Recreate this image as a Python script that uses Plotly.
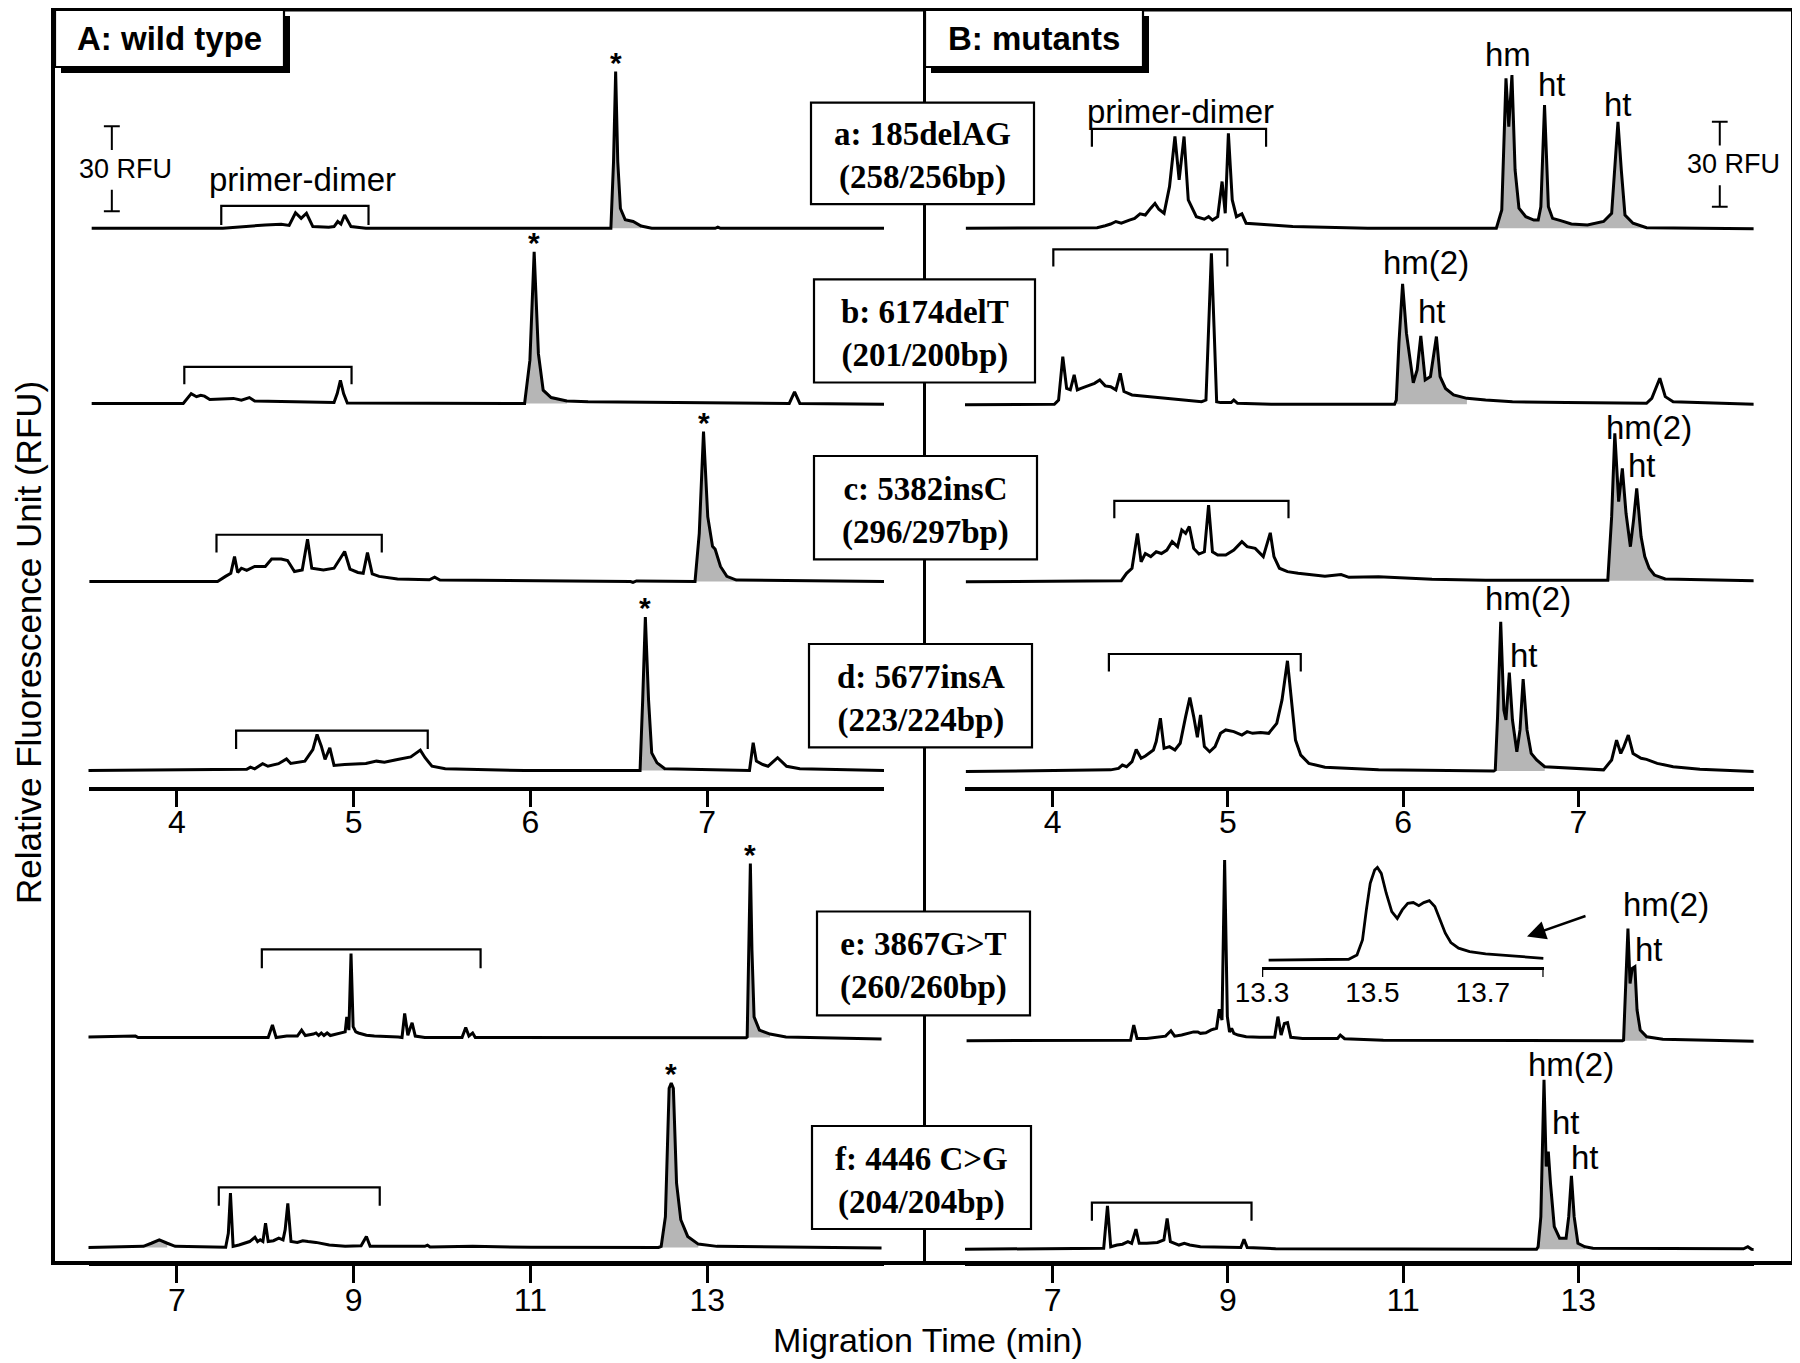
import plotly.graph_objects as go

W, H = 1800, 1363
K = 85 / 30.0          # pixels per RFU (30 RFU scale bar ~ 85 px)
OFF = 8                # page offset of the plot div
SANS = "Liberation Sans, Arial, Helvetica, sans-serif"
SERIF = "Liberation Serif, Times New Roman, serif"
FILL = "rgb(182,182,182)"

# ---------------- data (migration time in min, signal in RFU) ----------------
TICKS_UPPER = [4, 5, 6, 7]
TICKS_LOWER = [7, 9, 11, 13]
TICKS_INSET = [13.3, 13.5, 13.7]
RANGE_UPPER = [3.5, 8.0]
RANGE_LOWER = [6.0, 15.0]
RANGE_INSET = [13.3, 13.81]
SCALE_RFU = 30

WT_A = [(3.518, 0), (4.260, 0), (4.500, 1.2), (4.590, 1.4), (4.635, 1.0), (4.671, 5.5), (4.703, 3.5),
        (4.733, 5.3), (4.769, 0.6), (4.859, 0.4), (4.889, 0.6), (4.910, 2.4), (4.928, 1.5), (4.949, 4.7),
        (4.985, 0.6), (5.069, 0), (6.455, 0), (6.470, 23.5), (6.482, 55.3), (6.494, 23.5), (6.509, 7.0),
        (6.536, 3.0), (6.581, 2.4), (6.626, 0.8), (6.686, 0), (7.045, 0), (7.060, 0.4), (7.075, 0), (8.010, 0)]

WT_B = [(3.518, 0), (4.036, 0), (4.081, 3.5), (4.111, 2.4), (4.135, 2.9), (4.156, 2.6), (4.186, 1.4),
        (4.320, 1.8), (4.365, 1.2), (4.410, 2.1), (4.440, 0.9), (4.709, 0.6), (4.889, 0.35), (4.907, 3.5),
        (4.925, 8.2), (4.943, 3.5), (4.964, 0.2), (5.967, 0), (5.997, 15.3), (6.021, 53.5), (6.045, 17.6),
        (6.072, 4.7), (6.117, 2.1), (6.206, 0.9), (6.326, 0.6), (7.464, 0), (7.494, 4.1), (7.524, 0),
        (8.010, -0.3)]

WT_C = [(3.505, 0), (4.230, 0), (4.275, 1.8), (4.305, 2.9), (4.326, 8.8), (4.344, 3.2), (4.365, 4.7),
        (4.395, 3.9), (4.440, 5.3), (4.500, 5.3), (4.536, 7.9), (4.590, 7.9), (4.626, 7.4), (4.665, 3.5),
        (4.709, 4.1), (4.739, 14.9), (4.763, 4.7), (4.829, 4.1), (4.889, 4.7), (4.949, 10.6), (4.979, 4.4),
        (5.024, 3.2), (5.054, 2.9), (5.078, 10.2), (5.105, 2.7), (5.144, 1.8), (5.248, 0.9), (5.428, 0.6),
        (5.458, 1.5), (5.488, 0.5), (6.566, 0), (6.580, -0.3), (6.600, 0.2), (6.931, 0), (6.955, 17.0),
        (6.979, 52.9), (7.003, 22.9), (7.030, 12.4), (7.045, 11.4), (7.075, 5.3), (7.111, 1.8), (7.165, 0.5),
        (8.003, 0)]

WT_D = [(3.497, 0), (4.395, 0.4), (4.416, 1.2), (4.440, 0.6), (4.485, 2.4), (4.515, 1.5), (4.575, 2.4),
        (4.620, 4.1), (4.644, 2.5), (4.680, 2.9), (4.724, 3.3), (4.769, 7.4), (4.793, 12.7), (4.817, 8.6),
        (4.838, 3.9), (4.865, 8.0), (4.889, 1.8), (4.949, 2.1), (5.069, 2.5), (5.129, 3.3), (5.174, 2.9),
        (5.248, 3.9), (5.323, 4.8), (5.377, 7.2), (5.404, 4.5), (5.443, 1.5), (5.518, 0.6), (5.967, 0),
        (6.620, 0), (6.635, 25.0), (6.650, 54.2), (6.668, 25.0), (6.686, 6.2), (6.716, 2.7), (6.760, 0.6),
        (7.239, 0), (7.260, 9.8), (7.278, 3.3), (7.314, 2.1), (7.344, 1.5), (7.398, 4.5), (7.449, 1.5),
        (7.524, 0.6), (8.003, 0)]

WT_E = [(5.960, 0.2), (6.531, 0.5), (6.561, 0), (8.033, 0), (8.081, 4.4), (8.123, 0), (8.243, 0.5),
        (8.363, 0.5), (8.411, 2.6), (8.453, 0.7), (8.544, 1.2), (8.574, 1.6), (8.604, 0.7), (8.634, 1.6),
        (8.664, 0.7), (8.700, 1.6), (8.736, 0.7), (8.844, 1.4), (8.904, 2.0), (8.922, 7.3), (8.946, 2.6),
        (8.970, 29.6), (8.994, 3.8), (9.024, 2.0), (9.054, 1.6), (9.144, 0.8), (9.234, 0.5), (9.505, 0.2),
        (9.547, 0), (9.577, 8.5), (9.613, 0.8), (9.637, 3.1), (9.661, 5.2), (9.697, 0.5), (9.805, 0),
        (10.226, 0), (10.268, 3.5), (10.304, 0.5), (10.346, 1.6), (10.376, 0), (11.908, -0.1), (13.440, -0.1),
        (13.452, 0.2), (13.470, 30.8), (13.488, 61.4), (13.506, 30.8), (13.530, 7.3), (13.590, 2.6),
        (13.710, 1.2), (13.891, 0.2), (14.972, -0.5)]

WT_F = [(5.990, 0), (6.621, 0.4), (6.711, 1.5), (6.801, 2.7), (6.891, 1.5), (6.981, 0.4), (7.552, 0.1),
        (7.582, 5.0), (7.606, 19.2), (7.636, 0.4), (7.702, 0.9), (7.762, 1.5), (7.823, 2.1), (7.883, 3.6),
        (7.913, 2.1), (7.943, 2.7), (7.973, 2.1), (8.003, 8.6), (8.033, 2.1), (8.093, 2.4), (8.153, 3.3),
        (8.201, 2.7), (8.225, 6.3), (8.255, 15.6), (8.291, 2.1), (8.363, 1.8), (8.424, 2.4), (8.484, 2.1),
        (8.574, 1.8), (8.724, 0.9), (8.904, 0.4), (9.084, 0.6), (9.144, 3.9), (9.186, 0.4), (9.805, 0.4),
        (9.835, 0.8), (9.865, 0.2), (10.346, 0.4), (11.007, 0.1), (12.449, 0), (12.479, 0.4), (12.527, 10.9),
        (12.569, 56.2), (12.593, 58.0), (12.617, 56.2), (12.653, 22.7), (12.701, 9.8), (12.779, 3.9),
        (12.899, 1.2), (13.110, 0.4), (14.972, -0.2)]

MT_A = [(3.505, 0), (4.254, 0.2), (4.300, 0.9), (4.331, 1.5), (4.361, 2.4), (4.392, 1.8), (4.438, 2.9),
        (4.468, 3.5), (4.499, 5.1), (4.529, 4.7), (4.560, 7.1), (4.584, 8.8), (4.606, 6.7), (4.636, 5.3),
        (4.667, 14.7), (4.698, 32.4), (4.722, 17.1), (4.750, 32.4), (4.774, 10.0), (4.820, 4.1), (4.866, 3.2),
        (4.890, 4.1), (4.912, 2.9), (4.942, 4.1), (4.967, 16.5), (4.985, 5.3), (5.003, 33.5), (5.025, 10.0),
        (5.049, 4.1), (5.080, 5.1), (5.104, 1.8), (5.156, 1.5), (5.248, 1.2), (5.370, 0.6), (5.798, 0),
        (6.532, 0), (6.563, 6.5), (6.587, 52.9), (6.603, 35.9), (6.621, 54.1), (6.639, 20.6), (6.661, 7.1),
        (6.700, 4.1), (6.746, 2.9), (6.771, 2.9), (6.786, 7.6), (6.807, 43.5), (6.829, 7.6), (6.853, 3.5),
        (6.899, 2.7), (6.960, 1.5), (7.052, 1.2), (7.144, 2.4), (7.190, 5.3), (7.208, 20.6), (7.226, 37.6),
        (7.245, 20.6), (7.266, 4.7), (7.312, 1.8), (7.389, 0.2), (8.008, -0.2)]

MT_B = [(3.490, -0.2), (4.010, 0), (4.034, 1.5), (4.058, 16.8), (4.080, 5.6), (4.101, 5.1), (4.123, 10.4),
        (4.141, 5.1), (4.162, 5.6), (4.208, 6.8), (4.239, 7.4), (4.269, 8.6), (4.300, 6.5), (4.331, 6.2),
        (4.361, 5.1), (4.386, 10.9), (4.407, 4.5), (4.453, 3.3), (4.636, 2.1), (4.850, 0.9), (4.875, 1.5),
        (4.890, 27.4), (4.906, 53.3), (4.921, 27.4), (4.936, 0.9), (4.958, 0.6), (5.019, 0.6), (5.034, 1.5),
        (5.055, 0.35), (5.248, 0), (5.951, 0), (5.961, 1.5), (5.976, 21.5), (5.997, 42.5), (6.019, 25.1),
        (6.058, 7.6), (6.080, 12.1), (6.101, 24.1), (6.126, 8.6), (6.156, 9.8), (6.190, 23.9), (6.211, 9.8),
        (6.242, 5.6), (6.288, 3.3), (6.364, 2.1), (6.471, 1.5), (6.624, 0.9), (6.930, 0.6), (7.389, 0.35),
        (7.419, 2.1), (7.465, 9.2), (7.496, 2.7), (7.541, 0.9), (8.031, 0)]

MT_C = [(3.505, -0.4), (4.392, 0), (4.422, 2.6), (4.453, 4.4), (4.484, 16.7), (4.505, 6.7), (4.529, 9.6),
        (4.560, 8.5), (4.591, 10.2), (4.621, 9.6), (4.652, 10.8), (4.682, 13.8), (4.713, 12.0), (4.737, 17.9),
        (4.759, 16.7), (4.780, 19.1), (4.805, 11.4), (4.835, 9.4), (4.866, 10.2), (4.890, 26.7), (4.912, 10.2),
        (4.942, 9.1), (4.988, 9.1), (5.034, 10.8), (5.080, 13.8), (5.110, 12.0), (5.156, 11.4), (5.202, 8.5),
        (5.242, 16.9), (5.263, 8.5), (5.294, 4.4), (5.340, 3.2), (5.401, 2.6), (5.554, 1.6), (5.646, 2.2),
        (5.691, 1.2), (5.860, 1.4), (6.165, 0.5), (6.471, 0.2), (7.159, 0), (7.168, 0.2), (7.190, 22.6),
        (7.208, 52.0), (7.230, 27.9), (7.251, 39.6), (7.272, 23.8), (7.297, 12.0), (7.315, 21.4), (7.333, 32.6),
        (7.358, 15.5), (7.379, 8.5), (7.404, 4.4), (7.434, 2.0), (7.496, 0.6), (8.015, 0)]

MT_D = [(3.505, -0.2), (4.331, 0.4), (4.376, 0.9), (4.398, 2.1), (4.422, 1.5), (4.453, 3.3), (4.477, 7.6),
        (4.505, 4.5), (4.529, 5.3), (4.575, 7.4), (4.591, 10.4), (4.615, 18.6), (4.636, 8.0), (4.667, 8.6),
        (4.698, 7.4), (4.728, 9.8), (4.759, 19.2), (4.783, 25.9), (4.805, 19.2), (4.826, 11.9), (4.844, 19.8),
        (4.866, 8.6), (4.896, 6.8), (4.927, 8.6), (4.958, 13.3), (4.988, 14.5), (5.034, 13.9), (5.080, 12.7),
        (5.110, 13.9), (5.141, 13.3), (5.187, 13.6), (5.233, 13.3), (5.279, 16.8), (5.309, 25.1), (5.340, 38.9),
        (5.364, 25.1), (5.386, 10.9), (5.416, 5.6), (5.462, 2.7), (5.554, 1.3), (5.860, 0.4), (6.517, 0),
        (6.526, 0.4), (6.539, 19.2), (6.557, 52.7), (6.575, 21.5), (6.587, 18.0), (6.606, 34.7), (6.624, 18.0),
        (6.649, 6.8), (6.667, 14.5), (6.685, 32.4), (6.707, 14.5), (6.731, 6.2), (6.762, 3.9), (6.808, 1.5),
        (7.144, 0.4), (7.190, 3.9), (7.218, 10.9), (7.242, 6.2), (7.260, 8.6), (7.285, 12.7), (7.312, 6.2),
        (7.358, 4.5), (7.389, 4.1), (7.450, 2.7), (7.541, 1.5), (7.694, 0.6), (8.015, -0.2)]

MT_E = [(6.018, 0), (7.890, 0.2), (7.926, 5.5), (7.963, 0.8), (8.074, 0.8), (8.166, 1.2), (8.227, 1.4),
        (8.289, 1.6), (8.350, 3.5), (8.393, 1.6), (8.473, 2.0), (8.565, 2.6), (8.608, 3.1), (8.657, 3.1),
        (8.687, 2.6), (8.749, 2.8), (8.810, 3.8), (8.871, 4.4), (8.902, 11.1), (8.933, 7.3), (8.963, 63.8),
        (8.994, 8.5), (9.019, 3.1), (9.043, 4.4), (9.068, 2.6), (9.117, 2.0), (9.209, 1.4), (9.362, 1.2),
        (9.534, 1.2), (9.571, 8.5), (9.608, 2.0), (9.645, 6.1), (9.681, 6.4), (9.718, 1.2), (9.853, 0.8),
        (10.252, 0.8), (10.283, 2.0), (10.332, 0.7), (10.774, 0.2), (13.504, 0), (13.516, 0.2), (13.541, 20.2),
        (13.566, 39.6), (13.590, 20.2), (13.615, 25.5), (13.645, 26.1), (13.670, 10.8), (13.706, 3.8),
        (13.780, 1.4), (13.964, 0.5), (15.038, -0.2)]

MT_F = [(5.987, 0), (7.583, 0.4), (7.626, 15.3), (7.663, 0.9), (7.736, 1.5), (7.798, 1.8), (7.859, 2.7),
        (7.902, 2.1), (7.951, 7.1), (7.988, 2.1), (8.074, 2.1), (8.196, 2.4), (8.270, 3.3), (8.307, 10.9),
        (8.344, 2.7), (8.442, 1.5), (8.503, 2.1), (8.565, 1.5), (8.687, 0.9), (8.933, 0.6), (9.148, 0.6),
        (9.184, 3.5), (9.221, 0.6), (9.546, 0.2), (12.523, 0), (12.541, 0.9), (12.572, 11.5), (12.608, 59.8),
        (12.633, 29.2), (12.657, 34.5), (12.682, 23.3), (12.725, 8.0), (12.786, 3.9), (12.860, 3.9),
        (12.890, 11.5), (12.921, 25.9), (12.952, 11.5), (12.995, 2.1), (13.075, 0.9), (13.167, 0.4),
        (14.885, 0.2), (14.934, 0.9), (14.977, 0), (15.038, -0.2)]

INSET_E = [(13.312, 2.9), (13.457, 3.2), (13.472, 4.7), (13.482, 10.0), (13.489, 20.6), (13.496, 30.0),
           (13.504, 34.7), (13.509, 35.6), (13.516, 33.5), (13.525, 26.5), (13.535, 20.0), (13.545, 17.6),
           (13.554, 20.6), (13.564, 22.9), (13.574, 23.2), (13.584, 22.1), (13.593, 23.2), (13.603, 23.9),
           (13.613, 21.8), (13.622, 17.1), (13.632, 12.4), (13.642, 9.1), (13.656, 7.1), (13.676, 5.9),
           (13.705, 5.1), (13.753, 4.4), (13.810, 3.5)]

# primer-dimer brackets: (start, end, top RFU, leg-end RFU)
BRACKETS = {
    "wa": (4.251, 5.084, 7.9, 1.2), "wb": (4.042, 4.988, 12.9, 6.8), "wc": (4.224, 5.159, 16.5, 10.2),
    "wd": (4.335, 5.419, 14.1, 7.6), "we": (7.961, 10.436, 31.1, 24.4), "wf": (7.474, 9.295, 21.2, 14.7),
    "ma": (4.224, 5.218, 35.1, 28.8), "mb": (4.004, 4.997, 54.7, 48.6), "mc": (4.352, 5.346, 28.2, 22.0),
    "md": (4.321, 5.416, 41.3, 35.1), "mf": (7.448, 9.270, 16.5, 10.1),
}

# peak labels: (text, time, RFU)
LABELS = {
    "wa": [("primer-dimer", 4.71, 17.3)],
    "ma": [("primer-dimer", 4.73, 41.3), ("hm", 6.60, 61.5), ("ht", 6.847, 50.6), ("ht", 7.224, 43.6)],
    "mb": [("hm(2)", 6.132, 50.0), ("ht", 6.163, 32.7)],
    "mc": [("hm(2)", 7.405, 54.0), ("ht", 7.362, 40.8)],
    "md": [("hm(2)", 6.712, 61.0), ("ht", 6.691, 40.9)],
    "me": [("hm(2)", 13.997, 48.0), ("ht", 13.811, 32.3)],
    "mf": [("hm(2)", 12.914, 65.3), ("ht", 12.860, 44.6), ("ht", 13.076, 32.3)],
}

# shaded (filled) windows: (from, to) in min
FILLS = {
    "wa": [(6.45, 6.63)], "wb": [(5.96, 6.21)], "wc": [(6.93, 7.17)], "wd": [(6.62, 6.76)],
    "we": [(13.45, 13.89)], "wf": [(6.62, 6.98), (12.47, 12.90)],
    "ma": [(6.53, 7.39)], "mb": [(5.96, 6.47)], "mc": [(7.165, 7.50)], "md": [(6.52, 6.81)],
    "me": [(13.51, 13.78)], "mf": [(12.54, 13.08)],
}

GENE_NAMES = ["a: 185delAG", "b: 6174delT", "c: 5382insC", "d: 5677insA", "e: 3867G>T", "f: 4446 C>G"]
AMPLICONS = ["(258/256bp)", "(201/200bp)", "(296/297bp)", "(223/224bp)", "(260/260bp)", "(204/204bp)"]


# ---------------- layout geometry (pixels of the 1800x1363 picture) ----------------
def PX(x):
    return (x - OFF) / W


def PY(y):
    return 1 - (y - OFF) / H


LEFT_DOM = (88.5, 884.0)
RIGHT_DOM = (965.0, 1753.6)
UPPER_AXIS_Y = 788.5
LOWER_AXIS_Y = 1263.0
FRAME_TOP = 9.5

TRACES = [
    # key, data, x axis, baseline pixel y, asterisk?
    ("wa", WT_A, "x", 228.3, True), ("wb", WT_B, "x", 403.5, True), ("wc", WT_C, "x", 581.5, True),
    ("wd", WT_D, "x", 770.5, True), ("we", WT_E, "x3", 1037.5, True), ("wf", WT_F, "x3", 1247.5, True),
    ("ma", MT_A, "x2", 228.3, False), ("mb", MT_B, "x2", 404.3, False), ("mc", MT_C, "x2", 580.7, False),
    ("md", MT_D, "x2", 771.0, False), ("me", MT_E, "x4", 1040.7, False), ("mf", MT_F, "x4", 1249.3, False),
]

fig = go.Figure()
layout = {}


def xaxis_cfg(dom, rng, ypix, tickvals, lw, tlen, standoff):
    return dict(domain=[PX(dom[0]), PX(dom[1])], range=rng, anchor="free", position=PY(ypix),
                showline=True, linecolor="black", linewidth=lw, ticks="outside", ticklen=tlen,
                tickwidth=2.5, tickcolor="black", tickvals=tickvals, ticklabelstandoff=standoff,
                tickfont=dict(family=SANS, size=32, color="black"), automargin=False,
                showgrid=False, zeroline=False, fixedrange=True)


layout["xaxis"] = xaxis_cfg(LEFT_DOM, RANGE_UPPER, UPPER_AXIS_Y, TICKS_UPPER, 4, 16, -12)
layout["xaxis2"] = xaxis_cfg(RIGHT_DOM, RANGE_UPPER, UPPER_AXIS_Y, TICKS_UPPER, 4, 16, -12)
layout["xaxis3"] = xaxis_cfg(LEFT_DOM, RANGE_LOWER, LOWER_AXIS_Y, TICKS_LOWER, 5, 17, -10)
layout["xaxis4"] = xaxis_cfg(RIGHT_DOM, RANGE_LOWER, LOWER_AXIS_Y, TICKS_LOWER, 5, 17, -10)
layout["xaxis5"] = dict(domain=[PX(1262), PX(1543.6)], range=RANGE_INSET, anchor="free", position=PY(968.3),
                        showline=True, linecolor="black", linewidth=2.5, ticks="", tickvals=TICKS_INSET,
                        ticktext=[f"{v:.1f}" for v in TICKS_INSET], ticklabelstandoff=-2, automargin=False,
                        tickfont=dict(family=SANS, size=28, color="black"),
                        showgrid=False, zeroline=False, fixedrange=True)

LO, HI = -5, 70
annotations = []
for i, (key, data, xa, base, star) in enumerate(TRACES, start=1):
    yname = "y" if i == 1 else f"y{i}"
    ykey = "yaxis" if i == 1 else f"yaxis{i}"
    layout[ykey] = dict(domain=[PY(base - LO * K), PY(base - HI * K)], range=[LO, HI], visible=False,
                        anchor="free", position=0, automargin=False, fixedrange=True)
    ts = [p[0] for p in data]
    vs = [p[1] for p in data]
    for (a, b) in FILLS.get(key, []):
        sel = [(t, v) for t, v in data if a <= t <= b]
        fig.add_trace(go.Scatter(x=[p[0] for p in sel], y=[p[1] for p in sel], mode="lines",
                                 fill="tozeroy", fillcolor=FILL, line=dict(width=0, color=FILL),
                                 xaxis=xa, yaxis=yname, hoverinfo="skip"))
    fig.add_trace(go.Scatter(x=ts, y=vs, mode="lines", line=dict(color="black", width=3.0),
                             xaxis=xa, yaxis=yname))
    if key in BRACKETS:
        x0, x1, top, leg = BRACKETS[key]
        fig.add_trace(go.Scatter(x=[x0, x0, x1, x1], y=[leg, top, top, leg], mode="lines",
                                 line=dict(color="black", width=2.2), xaxis=xa, yaxis=yname))
    for (txt, tx, ty) in LABELS.get(key, []):
        annotations.append(dict(text=txt, x=tx, y=ty, xref=xa, yref=yname, showarrow=False,
                                font=dict(family=SANS, size=33, color="black"),
                                xanchor="center", yanchor="middle"))
    if star:
        pk = max(data, key=lambda p: p[1])
        annotations.append(dict(text="<b>*</b>", x=pk[0], y=pk[1], xref=xa, yref=yname, showarrow=False,
                                font=dict(family=SANS, size=30, color="black"),
                                xanchor="center", yanchor="bottom", yshift=-9))

# inset
layout["yaxis13"] = dict(domain=[PY(968.3), PY(968.3 - 42 * K)], range=[0, 42], visible=False,
                         anchor="free", position=0, fixedrange=True)
fig.add_trace(go.Scatter(x=[p[0] for p in INSET_E], y=[p[1] for p in INSET_E], mode="lines",
                         line=dict(color="black", width=2.8), xaxis="x5", yaxis="y13"))

# 30 RFU scale bars (data coordinates of trace a in each panel)
for xa, yname, xs, y0 in (("x", "y", 3.632, 6.0), ("x2", "y7", 7.807, 7.6)):
    y1 = y0 + SCALE_RFU
    dx = 0.045
    fig.add_trace(go.Scatter(x=[xs - dx, xs + dx, None, xs, xs, None, xs, xs, None, xs - dx, xs + dx],
                             y=[y1, y1, None, y1, y1 - 8.4, None, y0, y0 + 7.6, None, y0, y0],
                             mode="lines", line=dict(color="black", width=2), xaxis=xa, yaxis=yname))
    annotations.append(dict(text=f"{SCALE_RFU} RFU", x=xs, y=(y0 + y1) / 2, xref=xa, yref=yname,
                            showarrow=False, xshift=14, font=dict(family=SANS, size=27, color="black"),
                            xanchor="center", yanchor="middle"))

# shapes: frame, divider, boxes
shapes = []
shapes.append(dict(type="line", xref="paper", yref="paper", x0=PX(924.5), x1=PX(924.5), y0=PY(FRAME_TOP),
                   y1=PY(1263), line=dict(color="black", width=3)))
shapes.append(dict(type="rect", xref="paper", yref="paper", x0=PX(53), x1=PX(1793), y0=PY(FRAME_TOP),
                   y1=PY(1263), line=dict(color="black", width=4)))
# panel title boxes with drop shadow
for (x0, y0, x1, y1) in ((55, 10, 284, 67), (925, 10, 1143, 67)):
    shapes.append(dict(type="rect", xref="paper", yref="paper", x0=PX(x0 + 6), x1=PX(x1 + 6),
                       y0=PY(y0 + 6), y1=PY(y1 + 6), fillcolor="black", line=dict(width=0)))
    shapes.append(dict(type="rect", xref="paper", yref="paper", x0=PX(x0), x1=PX(x1), y0=PY(y0), y1=PY(y1),
                       fillcolor="white", line=dict(color="black", width=2.2)))


def paper_text(txt, x, y, size, family=SANS, angle=0):
    annotations.append(dict(text=txt, x=PX(x), y=PY(y), xref="paper", yref="paper", showarrow=False,
                            xanchor="center", yanchor="middle", textangle=angle,
                            font=dict(family=family, size=size, color="black")))


paper_text("<b>A: wild type</b>", 169.5, 38.5, 33)
paper_text("<b>B: mutants</b>", 1034, 38.5, 33)

GENE_BOXES = [(811, 102.6, 1034, 204.2), (814, 279.4, 1035, 382.5), (814, 456, 1037, 559.3),
              (809, 644, 1032, 747.4), (817, 911.5, 1030, 1015.3), (812, 1126, 1031, 1229)]
for (x0, y0, x1, y1), g, a in zip(GENE_BOXES, GENE_NAMES, AMPLICONS):
    shapes.append(dict(type="rect", xref="paper", yref="paper", x0=PX(x0), x1=PX(x1), y0=PY(y0), y1=PY(y1),
                       fillcolor="white", line=dict(color="black", width=2.2)))
    paper_text(f"<b>{g}</b><br><b>{a}</b>", (x0 + x1) / 2, (y0 + y1) / 2 + 3, 33, family=SERIF)

# inset end ticks
for xv in RANGE_INSET:
    shapes.append(dict(type="line", xref="x5", yref="paper", x0=xv, x1=xv, y0=PY(968.3), y1=PY(977),
                       line=dict(color="black", width=2.5)))

# arrow pointing to inset
annotations.append(dict(text="", x=PX(1527), y=PY(936.5), xref="paper", yref="paper", showarrow=True,
                        ax=60, ay=-21, axref="pixel", ayref="pixel", arrowhead=2, arrowsize=1.5,
                        arrowwidth=2.5, arrowcolor="black"))

# axis titles
paper_text("Relative Fluorescence Unit (RFU)", 28, 643, 35, angle=-90)
paper_text("Migration Time (min)", 928, 1340, 34)

layout.update(dict(width=W, height=H, autosize=False, showlegend=False,
                   margin=dict(l=0, r=0, t=0, b=0, pad=0, autoexpand=False),
                   paper_bgcolor="white", plot_bgcolor="rgba(0,0,0,0)", shapes=shapes,
                   annotations=annotations))
fig.update_layout(**layout)
fig.write_html("out.html")
